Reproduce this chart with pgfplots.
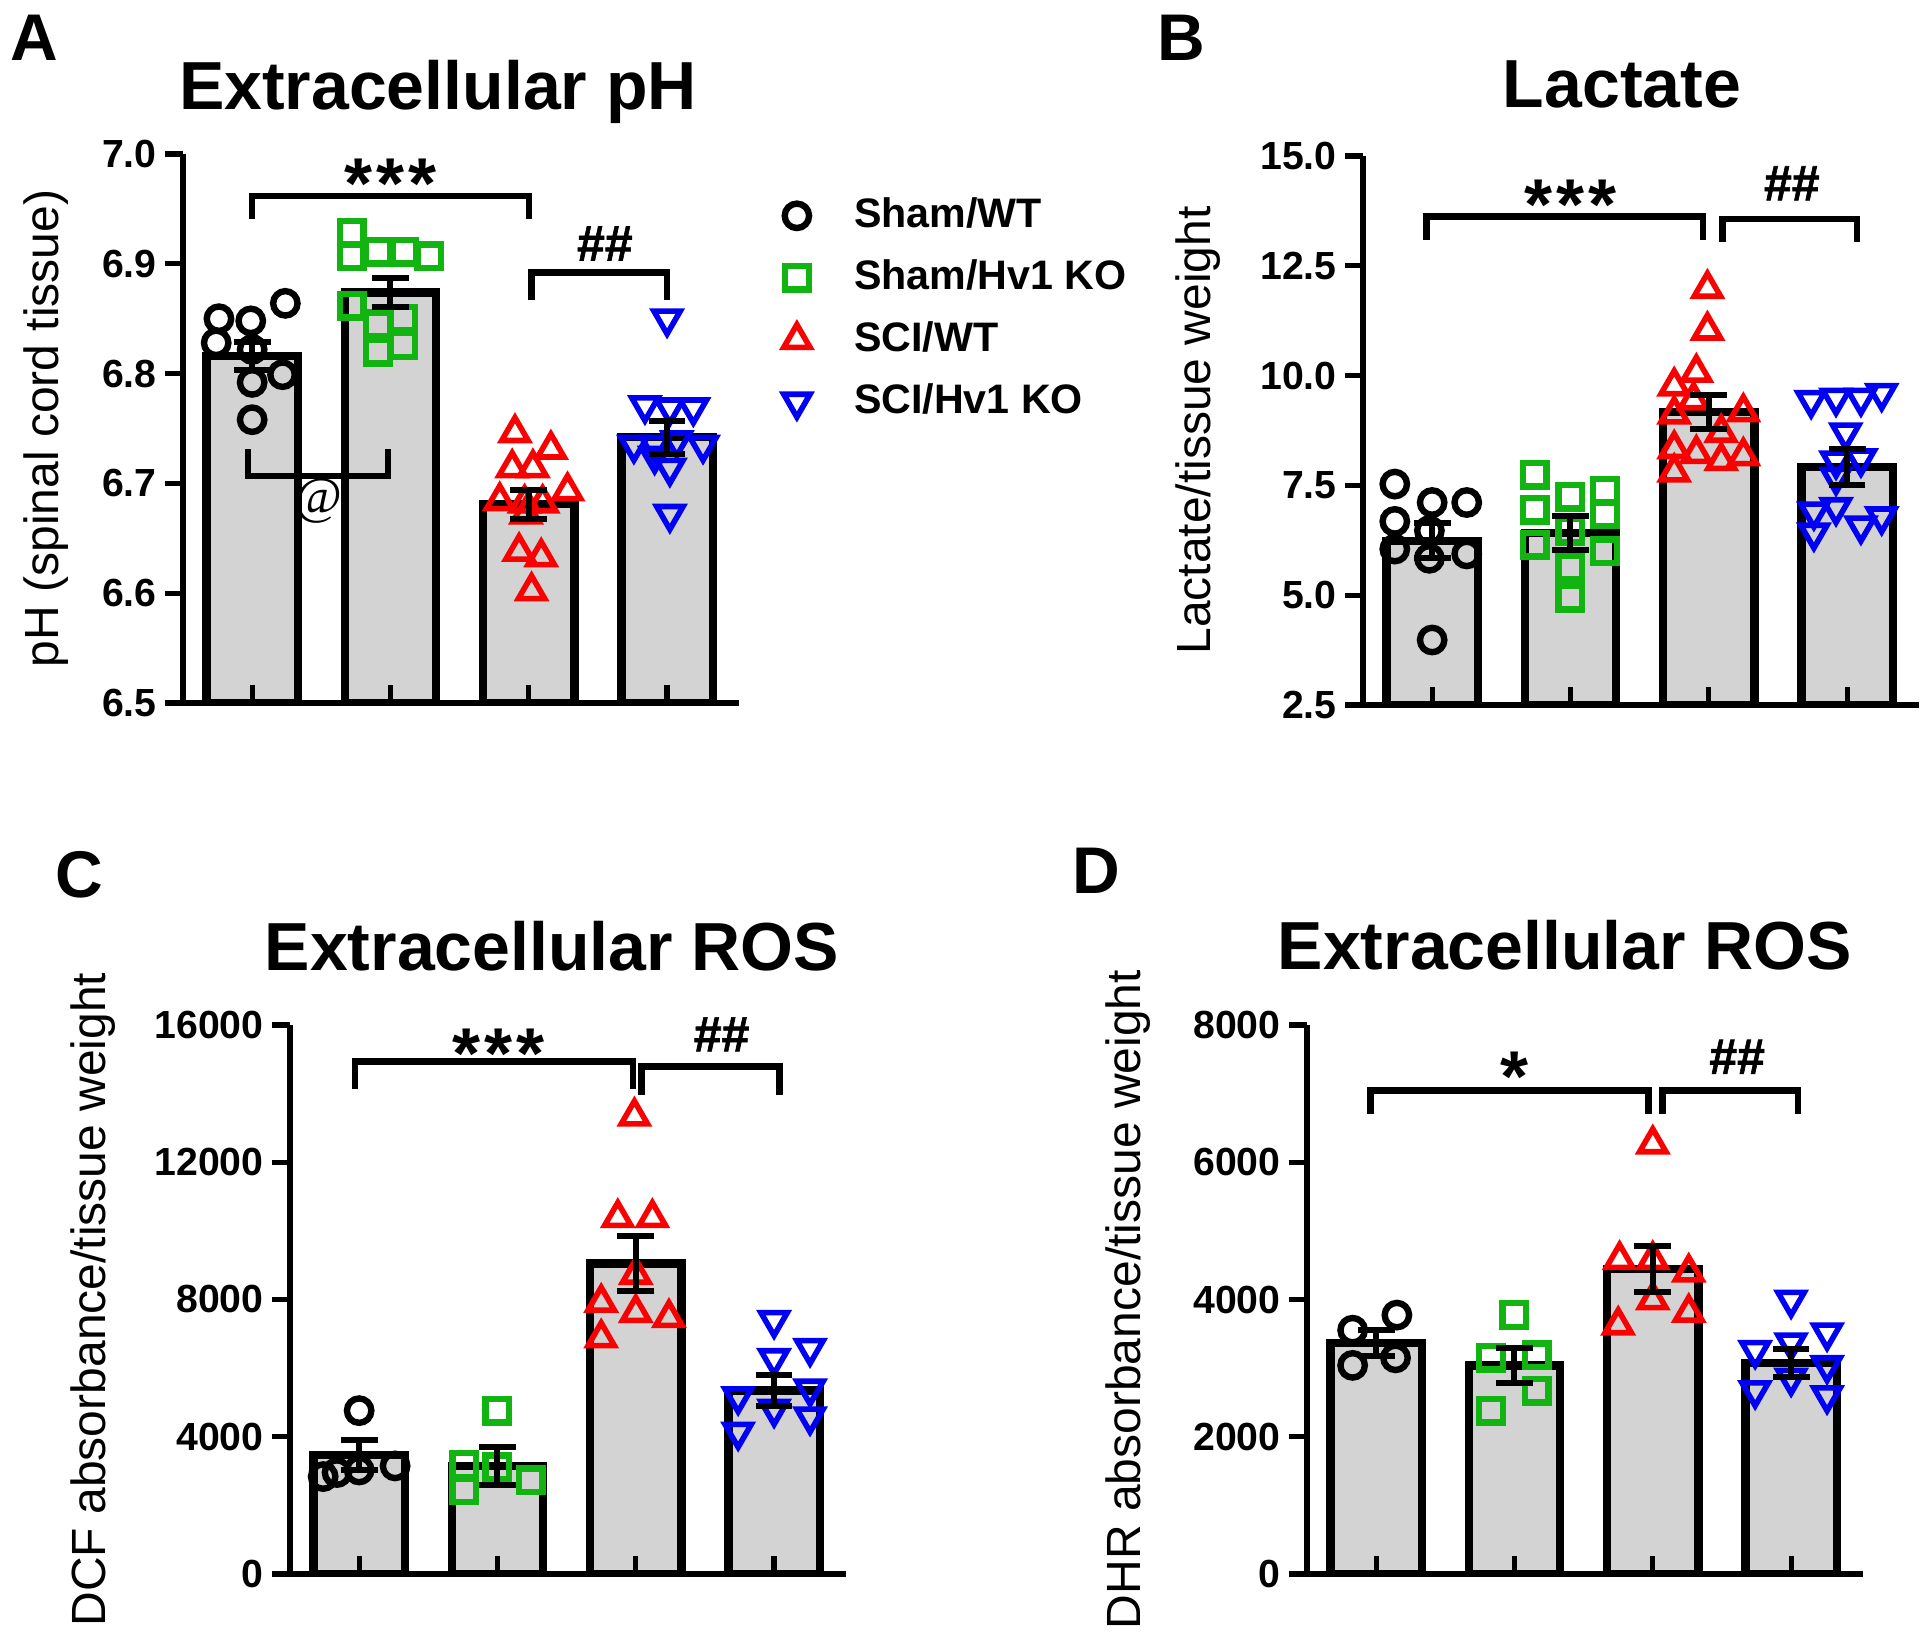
\documentclass[border=0pt]{standalone}
\usepackage{fontspec}
\setmainfont{Liberation Sans}
\newfontfamily\serifat{Liberation Serif}
\newfontfamily\hashfont{Liberation Sans}[BoldFeatures={FakeBold=1.2}]
\usepackage{pgfplots}
\pgfplotsset{compat=1.18}

\definecolor{barfill}{RGB}{211,211,211}
\definecolor{kogreen}{RGB}{18,180,18}
\definecolor{sciblue}{RGB}{0,0,245}
\definecolor{scired}{RGB}{250,0,0}

\pgfplotsset{
  panel/.style={
    scale only axis, width=139pt, height=137.25pt,
    xmin=0.5, xmax=4.52,
    axis x line*=bottom, axis y line*=left,
    axis line style={line width=1.3pt},
    xtick={1,2,3,4}, xticklabels={},
    xtick align=inside, ytick align=outside,
    major tick length=4.6pt,
    every tick/.style={line width=1.3pt, black},
    tick label style={font=\fontsize{9.8}{12}\selectfont\bfseries},
    yticklabel style={inner xsep=1.8pt},
    /pgf/number format/assume math mode=true,
    ylabel style={font=\fontsize{12}{14}\selectfont, anchor=center},
    clip mode=individual, axis on top,
  },
  bars/.style={ybar, bar width=0.66, fill=barfill, draw=black, line width=2.1pt, forget plot},
  sem/.style={draw=none, mark=none, forget plot,
    error bars/.cd, y dir=both, y explicit,
    error bar style={draw=black, line width=1.5pt},
    error mark options={rotate=90, draw=black, mark size=4.6pt, line width=1.5pt}},
  circ/.style={only marks, color=black, mark=o, mark size=3.05pt, mark options={line width=1.6pt}},
  sq/.style={only marks, color=kogreen, mark=square, mark size=2.95pt, mark options={line width=1.6pt}},
  tri/.style={only marks, color=scired, mark=triangle, mark size=3.8pt, mark options={line width=1.4pt}},
  itri/.style={only marks, color=sciblue, mark=triangle, mark size=3.8pt, mark options={line width=1.4pt, rotate=180}},
}
\tikzset{brk/.style={line width=1.6pt, black}}
\newcommand{\stars}[1]{\fontsize{18}{18}\selectfont\bfseries #1}
\newcommand{\hash}{\hashfont\fontsize{12.5}{12.5}\selectfont\bfseries \#\#}

\begin{document}
\begin{tikzpicture}
\path[use as bounding box] (0,0) rectangle (480pt,407.75pt);

% ---------- A: extracellular pH ----------
\begin{axis}[panel, at={(45.75pt,232pt)}, anchor=south west,
  ymin=6.5, ymax=7.0, ytick={6.5,6.6,6.7,6.8,6.9,7.0},
  yticklabel style={/pgf/number format/fixed, /pgf/number format/fixed zerofill, /pgf/number format/precision=1},
  ylabel={pH (spinal cord tissue)}, ylabel style={at={(axis description cs:-0.247,0.5)}},
  legend style={at={(axis description cs:1.079,0.718)}, anchor=west, draw=none, fill=none,
    inner sep=0pt, row sep=5.5pt, column sep=10pt, font=\fontsize{10.3}{12}\selectfont\bfseries,
    nodes={inner xsep=1pt, inner ysep=0pt, text height=8pt, text depth=2pt}},
  legend cell align=left,
]
\addplot[bars] coordinates {(1,6.816) (2,6.874) (3,6.681) (4,6.742)};
\addplot[circ] coordinates {(0.76,6.850) (0.99,6.848) (1.24,6.864) (0.74,6.828) (1.00,6.822)
  (1.22,6.799) (1.00,6.792) (1.00,6.758)};
\addlegendentry{Sham/WT}
\addplot[sq] coordinates {(1.72,6.928) (1.72,6.907) (1.91,6.911) (2.10,6.911) (2.28,6.907)
  (1.72,6.862) (1.91,6.845) (2.09,6.850) (1.91,6.820) (2.09,6.826)};
\addlegendentry{Sham/Hv1 KO}
\addplot[tri] coordinates {(2.90,6.746) (3.16,6.731) (2.88,6.714) (3.03,6.714) (3.28,6.693)
  (2.79,6.684) (2.97,6.682) (3.10,6.682) (2.98,6.672) (2.93,6.638) (3.09,6.633) (3.02,6.602)};
\addlegendentry{SCI/WT}
\addplot[itri] coordinates {(4.00,6.850) (3.84,6.771) (4.02,6.769) (4.19,6.769) (3.76,6.735)
  (3.91,6.735) (4.07,6.739) (4.26,6.735) (4.02,6.714) (3.91,6.725) (4.02,6.672)};
\addlegendentry{SCI/Hv1 KO}
\addplot[sem] coordinates {(1,6.816) +- (0,0.013) (2,6.874) +- (0,0.013)
  (3,6.681) +- (0,0.013) (4,6.742) +- (0,0.015)};
\draw[brk] (axis cs:1,6.941) |- (axis cs:3,6.962) -- (axis cs:3,6.941);
\node[inner sep=0pt, anchor=north] at (axis cs:2,6.996) {\stars{*\kern1pt*\kern1pt*}};
\draw[brk] (axis cs:3.02,6.867) |- (axis cs:4,6.892) -- (axis cs:4,6.867);
\node[inner sep=0pt, anchor=base] at (axis cs:3.55,6.903) {\hash};
\draw[brk] (axis cs:0.97,6.731) |- (axis cs:1.98,6.707) -- (axis cs:1.98,6.731);
\node[inner sep=0pt] at (axis cs:1.48,6.684) {\fontsize{13}{13}\selectfont\serifat @};
\end{axis}

% ---------- B: lactate ----------
\begin{axis}[panel, at={(340.75pt,231.5pt)}, anchor=south west,
  ymin=2.5, ymax=15, ytick={2.5,5,7.5,10,12.5,15},
  yticklabel style={/pgf/number format/fixed, /pgf/number format/fixed zerofill, /pgf/number format/precision=1},
  ylabel={Lactate/tissue weight}, ylabel style={at={(axis description cs:-0.297,0.5)}},
]
\addplot[bars] coordinates {(1,6.24) (2,6.42) (3,9.17) (4,7.92)};
\addplot[circ] coordinates {(0.73,7.53) (1.00,7.11) (1.25,7.11) (0.73,6.68) (0.98,6.47)
  (0.73,6.05) (0.98,5.84) (1.25,5.94) (1.00,3.98)};
\addplot[sq] coordinates {(1.74,7.74) (1.74,6.95) (2.00,7.24) (2.25,7.37) (2.25,6.84)
  (1.74,6.15) (2.00,6.47) (2.25,6.00) (2.00,5.63) (2.00,4.94)};
\addplot[tri] coordinates {(2.99,11.98) (2.99,11.03) (2.91,10.07) (2.75,9.76) (2.89,9.44)
  (3.25,9.17) (2.75,9.12) (3.09,8.70) (2.75,8.33) (2.91,8.22) (3.09,8.06) (3.25,8.17) (2.75,7.80)};
\addplot[itri] coordinates {(3.74,9.44) (3.92,9.49) (4.10,9.49) (4.25,9.60) (3.99,8.70)
  (3.92,8.06) (4.10,8.11) (3.92,7.69) (3.76,6.90) (3.92,7.00) (4.10,6.58) (4.25,6.79) (3.76,6.42)};
\addplot[sem] coordinates {(1,6.24) +- (0,0.40) (2,6.42) +- (0,0.38)
  (3,9.17) +- (0,0.38) (4,7.92) +- (0,0.40)};
\draw[brk] (axis cs:0.96,13.09) |- (axis cs:2.96,13.62) -- (axis cs:2.96,13.09);
\node[inner sep=0pt, anchor=north] at (axis cs:2,14.47) {\stars{*\kern1pt*\kern1pt*}};
\draw[brk] (axis cs:3.10,13.04) |- (axis cs:4.07,13.57) -- (axis cs:4.07,13.04);
\node[inner sep=0pt, anchor=base] at (axis cs:3.6,13.99) {\hash};
\end{axis}

% ---------- C: DCF ----------
\begin{axis}[panel, at={(72.5pt,14.25pt)}, anchor=south west,
  ymin=0, ymax=16000, ytick={0,4000,8000,12000,16000}, scaled y ticks=false,
  yticklabel style={/pgf/number format/1000 sep={}},
  ylabel={DCF absorbance/tissue weight}, ylabel style={at={(axis description cs:-0.354,0.5)}},
]
\addplot[bars] coordinates {(1,3475) (2,3150) (3,9050) (4,5350)};
\addplot[circ] coordinates {(1.00,4761) (0.74,2839) (1.00,3031) (1.26,3150) (0.84,2957)};
\addplot[sq] coordinates {(2.00,4761) (1.76,3179) (2.00,3105) (2.24,2735) (1.76,2440)};
\addplot[tri] coordinates {(2.99,13338) (2.87,10380) (3.12,10380) (3.00,8724) (2.75,7911)
  (3.00,7615) (3.24,7468) (2.75,6876)};
\addplot[itri] coordinates {(4.00,7394) (4.26,6580) (4.00,6284) (3.74,5175) (4.26,5397)
  (4.00,4806) (4.26,4584) (3.74,4140)};
\addplot[sem] coordinates {(1,3475) +- (0,444) (2,3150) +- (0,550)
  (3,9050) +- (0,800) (4,5350) +- (0,450)};
\draw[brk] (axis cs:0.97,14121) |- (axis cs:2.98,14935) -- (axis cs:2.98,14121);
\node[inner sep=0pt, anchor=north] at (axis cs:2.01,15896) {\stars{*\kern1pt*\kern1pt*}};
\draw[brk] (axis cs:3.04,13973) |- (axis cs:4.04,14787) -- (axis cs:4.04,13973);
\node[inner sep=0pt, anchor=base] at (axis cs:3.62,15230) {\hash};
\end{axis}

% ---------- D: DHR ----------
\begin{axis}[panel, at={(326.75pt,14.25pt)}, anchor=south west,
  ymin=0, ymax=8000, ytick={0,2000,4000,6000,8000}, scaled y ticks=false,
  yticklabel style={/pgf/number format/1000 sep={}},
  ylabel={DHR absorbance/tissue weight}, ylabel style={at={(axis description cs:-0.322,0.5)}},
]
\addplot[bars] coordinates {(1,3370) (2,3040) (3,4447) (4,3077)};
\addplot[circ] coordinates {(1.15,3773) (0.83,3553) (0.83,3040) (1.14,3150)};
\addplot[sq] coordinates {(2.00,3773) (1.83,3150) (2.16,3187) (2.16,2674) (1.83,2381)};
\addplot[tri] coordinates {(3.00,6264) (2.76,4579) (3.00,4579) (3.26,4396) (3.00,3993)
  (3.26,3810) (2.75,3626)};
\addplot[itri] coordinates {(4.00,3993) (4.26,3516) (3.74,3260) (4.00,3370) (4.26,3040)
  (4.00,2857) (3.74,2674) (4.26,2601)};
\addplot[sem] coordinates {(1,3370) +- (0,190) (2,3040) +- (0,250)
  (3,4447) +- (0,340) (4,3077) +- (0,200)};
\draw[brk] (axis cs:0.96,6703) |- (axis cs:2.97,7048) -- (axis cs:2.97,6703);
\node[inner sep=0pt, anchor=north] at (axis cs:2,7619) {\stars{*}};
\draw[brk] (axis cs:3.07,6703) |- (axis cs:4.05,7048) -- (axis cs:4.05,6703);
\node[inner sep=0pt, anchor=base] at (axis cs:3.61,7289) {\hash};
\end{axis}

% ---------- titles and panel letters ----------
\tikzset{ttl/.style={font=\fontsize{17}{20}\selectfont\bfseries, anchor=base, inner sep=0pt},
         lett/.style={font=\fontsize{16.5}{18}\selectfont\bfseries, anchor=base west, inner sep=0pt}}
\node[ttl] at (109.5pt,380.25pt) {Extracellular pH};
\node[ttl] at (405.5pt,380.75pt) {Lactate};
\node[ttl] at (138pt,165pt) {Extracellular ROS};
\node[ttl] at (391.25pt,165.25pt) {Extracellular ROS};
\node[lett] at (2.5pt,392.5pt) {A};
\node[lett] at (289.25pt,392.5pt) {B};
\node[lett] at (13.75pt,183.25pt) {C};
\node[lett] at (267.9pt,184.25pt) {D};
\end{tikzpicture}
\end{document}
